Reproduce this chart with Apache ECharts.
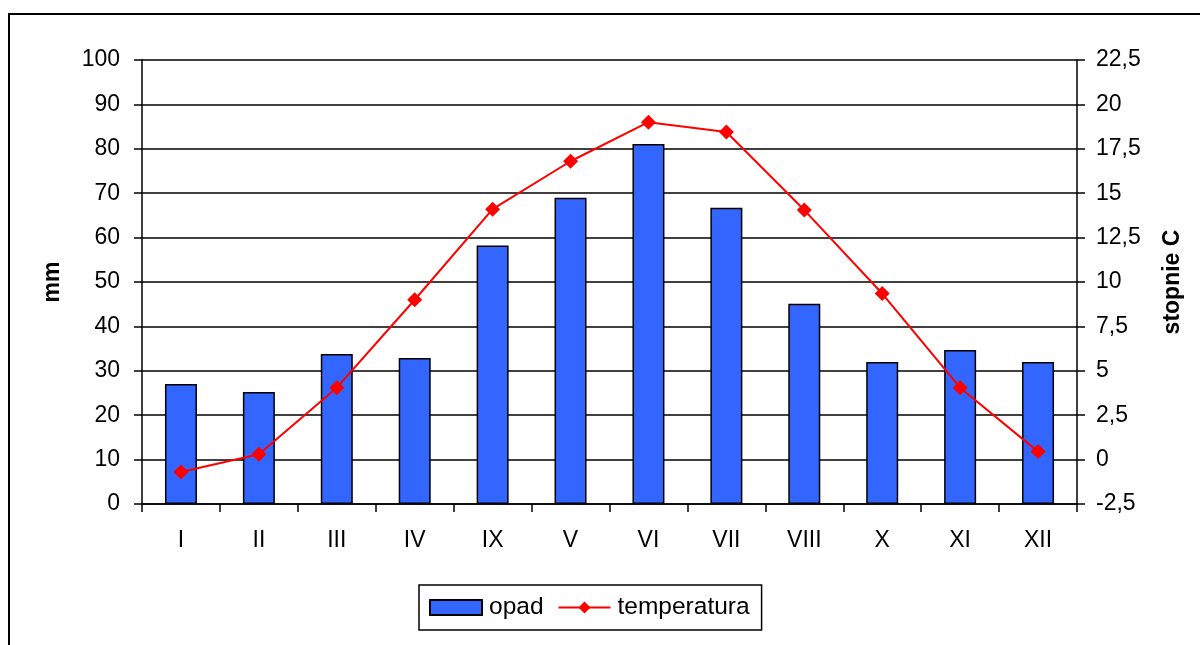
<!DOCTYPE html>
<html>
<head>
<meta charset="utf-8">
<script src="https://cdn.jsdelivr.net/npm/echarts@6/dist/echarts.min.js"></script>
<style>
html,body{margin:0;padding:0;background:#fff;}
#chart{width:1200px;height:645px;}
</style>
</head>
<body>
<div id="chart"></div>
<script>
const categories = ['I','II','III','IV','IX','V','VI','VII','VIII','X','XI','XII'];
const opad = [27.0, 25.2, 33.8, 32.9, 58.2, 69.0, 81.1, 66.7, 45.1, 32.0, 34.7, 32.0];
const temperatura = [-0.7, 0.3, 4.05, 9.0, 14.1, 16.8, 19.0, 18.45, 14.05, 9.35, 4.05, 0.45];
const leftTicks = {min: 0, max: 100, interval: 10};
const rightTicks = {min: -2.5, max: 22.5, interval: 2.5};

const FONT = 'Liberation Sans, Arial, sans-serif';
const FS = 23;
const chart = echarts.init(document.getElementById('chart'), null, {renderer: 'canvas'});
chart.setOption({
  animation: false,
  backgroundColor: '#fff',
  textStyle: {fontFamily: FONT, color: '#000'},
  graphic: [{
    type: 'rect', shape: {x: 9, y: 14, width: 1230, height: 700},
    style: {fill: 'none', stroke: '#000', lineWidth: 2}, z: -1
  }],
  grid: {left: 142, right: 123, top: 60, bottom: 141, containLabel: false},
  legend: {
    left: 419, top: 585,
    orient: 'horizontal',
    padding: [10, 12, 10, 10],
    itemGap: 14,
    itemWidth: 52, itemHeight: 15,
    borderColor: '#000', borderWidth: 1.5, borderRadius: 0,
    textStyle: {fontFamily: FONT, fontSize: 24.5, color: '#000', padding: [0, 0, 0, 2]},
    data: [{name: 'opad', icon: 'rect'}, {name: 'temperatura'}]
  },
  xAxis: {
    type: 'category', data: categories, boundaryGap: true,
    axisLine: {show: true, lineStyle: {color: '#000', width: 1.5}},
    axisTick: {show: true, inside: false, length: 8, interval: 0, lineStyle: {color: '#000', width: 1.5}},
    axisLabel: {fontFamily: FONT, fontSize: FS, color: '#000', margin: 25, interval: 0},
    splitLine: {show: false}
  },
  yAxis: [{
    type: 'value', min: leftTicks.min, max: leftTicks.max, interval: leftTicks.interval,
    name: 'mm', nameLocation: 'middle', nameRotate: 90, nameGap: 78,
    nameTextStyle: {fontFamily: FONT, fontSize: FS, fontWeight: 'bold', color: '#000'},
    axisLine: {show: true, lineStyle: {color: '#000', width: 1.5}},
    axisTick: {show: true, inside: false, length: 8, lineStyle: {color: '#000', width: 1.5}},
    axisLabel: {fontFamily: FONT, fontSize: FS, color: '#000', margin: 22},
    splitLine: {show: true, lineStyle: {color: '#000', width: 1.6}}
  }, {
    type: 'value', position: 'right',
    min: rightTicks.min, max: rightTicks.max, interval: rightTicks.interval,
    name: 'stopnie C', nameLocation: 'middle', nameRotate: 90, nameGap: 84,
    nameTextStyle: {fontFamily: FONT, fontSize: FS, fontWeight: 'bold', color: '#000'},
    axisLine: {show: true, lineStyle: {color: '#000', width: 1.5}},
    axisTick: {show: true, inside: false, length: 8, lineStyle: {color: '#000', width: 1.5}},
    axisLabel: {fontFamily: FONT, fontSize: FS, color: '#000', margin: 19,
      formatter: v => String(Math.round(v * 10) / 10).replace('.', ',')},
    splitLine: {show: false}
  }],
  series: [{
    name: 'opad', type: 'bar', data: opad, yAxisIndex: 0,
    barWidth: 32,
    itemStyle: {color: '#3366FF', borderColor: '#000', borderWidth: 1.5}
  }, {
    name: 'temperatura', type: 'line', data: temperatura, yAxisIndex: 1,
    symbol: 'diamond', symbolSize: 15,
    lineStyle: {color: '#FF0000', width: 2},
    itemStyle: {color: '#FF0000'}
  }]
});
</script>
</body>
</html>
